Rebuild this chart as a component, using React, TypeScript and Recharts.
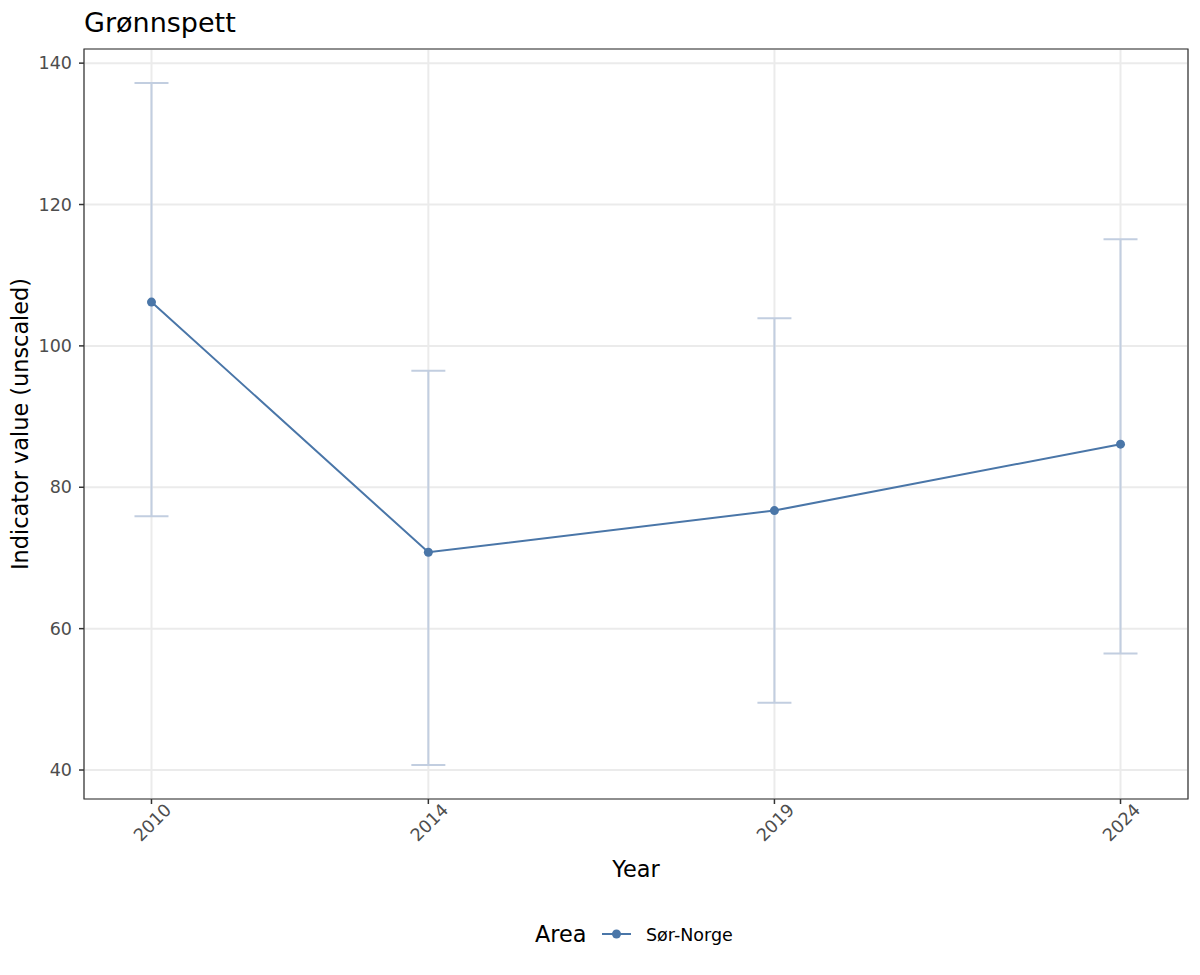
import { ComposedChart, Line, XAxis, YAxis, CartesianGrid, ErrorBar, Legend, ReferenceArea } from 'recharts';

const years = [2010, 2014, 2019, 2024];
const indicator = [106.2, 70.8, 76.7, 86.1];
const lower = [75.9, 40.7, 49.5, 56.5];
const upper = [137.2, 96.5, 103.9, 115.1];
const yTicks = [40, 60, 80, 100, 120, 140];
const areaName = 'Sør-Norge';

const data = years.map((year, i) => ({
    year,
    value: indicator[i],
    err: [indicator[i] - lower[i], upper[i] - indicator[i]],
}));

const FONT = '"DejaVu Sans", sans-serif';
const BLUE = '#4A76A8';
const X_DOMAIN = [2009.025, 2024.975];
const Y_DOMAIN = [35.9, 142.0];

const XTick = (props: any) => {
    const { x, y, payload } = props;
    const ax = x + 21;
    const ay = y + 7;
    return (
        <text
            x={ax}
            y={ay}
            transform={`rotate(-45 ${ax} ${ay})`}
            textAnchor="end"
            fontSize={17.5}
            fill="#4D4D4D"
            fontFamily={FONT}
        >
            {payload.value}
        </text>
    );
};

const LegendBox = () => {
    // legend block sits below the x axis, under the panel (left 84, width 1104)
    return (
        <svg width={1104} height={67} style={{ display: 'block' }}>
            <text x={451} y={34} fontSize={22.4} fill="#000" fontFamily={FONT}>Area</text>
            <line x1={518} x2={547} y1={26} y2={26} stroke={BLUE} strokeWidth={2} />
            <circle cx={532.5} cy={26} r={4.5} fill={BLUE} />
            <text x={562} y={33} fontSize={17.5} fill="#000" fontFamily={FONT}>{areaName}</text>
        </svg>
    );
};

const App = () => {
    return (
        <div style={{ position: 'absolute', left: 0, top: 0, width: 1200, height: 975, background: '#fff' }}>
            <ComposedChart
                width={1200}
                height={975}
                data={data}
                margin={{ top: 49, right: 12, left: 0, bottom: 0 }}
            >
                <CartesianGrid stroke="#EBEBEB" strokeWidth={2} />
                <XAxis
                    dataKey="year"
                    type="number"
                    domain={X_DOMAIN}
                    ticks={years}
                    allowDataOverflow
                    height={109}
                    tickSize={5}
                    tickMargin={0}
                    axisLine={false}
                    tickLine={{ stroke: '#333333', strokeWidth: 1.5 }}
                    tick={<XTick />}
                    interval={0}
                />
                <YAxis
                    type="number"
                    domain={Y_DOMAIN}
                    ticks={yTicks}
                    allowDataOverflow
                    width={84}
                    tickSize={5}
                    tickMargin={7}
                    axisLine={false}
                    tickLine={{ stroke: '#333333', strokeWidth: 1.5 }}
                    tick={{ fontSize: 17.5, fill: '#4D4D4D', fontFamily: FONT }}
                    interval={0}
                />
                <Legend
                    verticalAlign="bottom"
                    height={67}
                    content={() => <LegendBox />}
                    wrapperStyle={{ left: 84, width: 1104 }}
                />
                <Line
                    dataKey="value"
                    stroke="none"
                    dot={false}
                    activeDot={false}
                    legendType="none"
                    isAnimationActive={false}
                >
                    <ErrorBar
                        dataKey="err"
                        direction="y"
                        width={17}
                        stroke="#C2CEE0"
                        strokeWidth={2}
                        isAnimationActive={false}
                    />
                </Line>
                <Line
                    dataKey="value"
                    name={areaName}
                    type="linear"
                    stroke={BLUE}
                    strokeWidth={2}
                    dot={{ r: 4.5, fill: BLUE, stroke: BLUE, strokeWidth: 0 }}
                    activeDot={false}
                    isAnimationActive={false}
                />
                <ReferenceArea
                    x1={X_DOMAIN[0]}
                    x2={X_DOMAIN[1]}
                    y1={Y_DOMAIN[0]}
                    y2={Y_DOMAIN[1]}
                    fill="none"
                    stroke="#333333"
                    strokeWidth={1.2}
                    ifOverflow="visible"
                />
            </ComposedChart>
            <svg
                width={1200}
                height={975}
                style={{ position: 'absolute', left: 0, top: 0, pointerEvents: 'none' }}
            >
                <text x={84} y={31.5} fontSize={27} fill="#000" fontFamily={FONT}>Grønnspett</text>
                <text
                    x={28}
                    y={424}
                    transform="rotate(-90 28 424)"
                    textAnchor="middle"
                    fontSize={22.4}
                    fill="#000"
                    fontFamily={FONT}
                >
                    Indicator value (unscaled)
                </text>
                <text x={636} y={877} textAnchor="middle" fontSize={22.4} fill="#000" fontFamily={FONT}>Year</text>
            </svg>
        </div>
    );
};

export default App;
